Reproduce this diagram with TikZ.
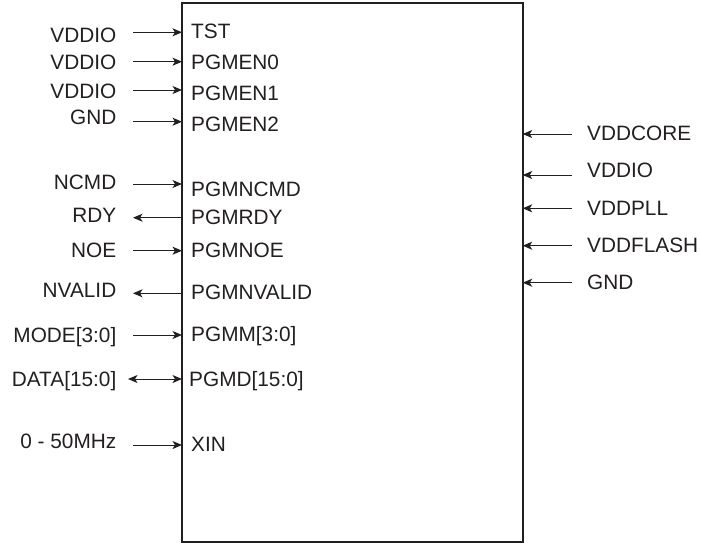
\documentclass[tikz,border=0pt]{standalone}
\usepackage{fontspec}
\setmainfont{Liberation Sans}
\usetikzlibrary{arrows.meta}
\definecolor{ink}{HTML}{231F20}
\begin{document}
\begin{tikzpicture}[x=1pt,y=-1pt,
  font=\fontsize{20.8}{24}\selectfont, every node/.style={text=ink},
  lbl/.style={inner sep=0pt, text height=14.9pt, text depth=0pt},
  lleft/.style={lbl, anchor=east},
  lin/.style={lbl, anchor=west},
  tip/.style={Stealth[length=9.5pt,width=8pt,inset=2.5pt]},
  sig/.style={draw=ink, line width=1pt, -{Stealth[length=9.5pt,width=8pt,inset=2.5pt]}},
  sigb/.style={draw=ink, line width=1pt, {Stealth[length=9.5pt,width=8pt,inset=2.5pt]}-{Stealth[length=9.5pt,width=8pt,inset=2.5pt]}}]
\useasboundingbox (0,0) rectangle (701,544);
\node[draw=ink, line width=2pt, inner sep=0pt, outer sep=0pt, minimum width=340.7pt, minimum height=539.8pt] (chip) at (352.35,272.4) {};
% left outside labels
\node[lleft] (l1) at (116.5,35.5) {VDDIO};
\node[lleft] (l2) at (116.5,62.5) {VDDIO};
\node[lleft] (l3) at (116.5,90.8) {VDDIO};
\node[lleft] (l4) at (116.5,117.5) {GND};
\node[lleft] (l5) at (116.5,182.2) {NCMD};
\node[lleft] (l6) at (116.5,215.5) {RDY};
\node[lleft] (l7) at (116.5,249.7) {NOE};
\node[lleft] (l8) at (116.5,290.5) {NVALID};
\node[lleft] (l9) at (116.5,334.8) {MODE[3:0]};
\node[lleft] (l10) at (116.5,379.2) {DATA[15:0]};
\node[lleft] (l11) at (116.5,441.2) {0 - 50MHz};
% inner pin labels
\node[lin] (p1) at (191,31.5) {TST};
\node[lin] (p2) at (191,62.5) {PGMEN0};
\node[lin] (p3) at (191,93.3) {PGMEN1};
\node[lin] (p4) at (191,124.5) {PGMEN2};
\node[lin] (p5) at (191,189.2) {PGMNCMD};
\node[lin] (p6) at (191,217.5) {PGMRDY};
\node[lin] (p7) at (191,250) {PGMNOE};
\node[lin] (p8) at (191,292.5) {PGMNVALID};
\node[lin] (p9) at (191,334.2) {PGMM[3:0]};
\node[lin] (p10) at (189,379.2) {PGMD[15:0]};
\node[lin] (p11) at (191,444.2) {XIN};
% left arrow free ends
\coordinate (a1) at (133,32.3);
\coordinate (a2) at (133,61.7);
\coordinate (a3) at (133,90);
\coordinate (a4) at (133,121.7);
\coordinate (a5) at (133,184);
\coordinate (a6) at (133,217.7);
\coordinate (a7) at (133,250.7);
\coordinate (a8) at (133,293.3);
\coordinate (a9) at (133,335);
\coordinate (a10) at (128,379);
\coordinate (a11) at (133,445);
\draw[sig] (a1) -- (chip.west |- a1);
\draw[sig] (a2) -- (chip.west |- a2);
\draw[sig] (a3) -- (chip.west |- a3);
\draw[sig] (a4) -- (chip.west |- a4);
\draw[sig] (a5) -- (chip.west |- a5);
\draw[sig] (chip.west |- a6) -- (a6);
\draw[sig] (a7) -- (chip.west |- a7);
\draw[sig] (chip.west |- a8) -- (a8);
\draw[sig] (a9) -- (chip.west |- a9);
\draw[sigb] (a10) -- (chip.west |- a10);
\draw[sig] (a11) -- (chip.west |- a11);
% right side
\node[lin] (r1) at (587,132.8) {VDDCORE};
\node[lin] (r2) at (587,170.5) {VDDIO};
\node[lin] (r3) at (587,207.8) {VDDPLL};
\node[lin] (r4) at (587,244.7) {VDDFLASH};
\node[lin] (r5) at (587,282.2) {GND};
\coordinate (b1) at (572,134);
\coordinate (b2) at (572,175);
\coordinate (b3) at (572,208.3);
\coordinate (b4) at (572,245.7);
\coordinate (b5) at (572,282.7);
\draw[sig] (b1) -- (chip.east |- b1);
\draw[sig] (b2) -- (chip.east |- b2);
\draw[sig] (b3) -- (chip.east |- b3);
\draw[sig] (b4) -- (chip.east |- b4);
\draw[sig] (b5) -- (chip.east |- b5);
\end{tikzpicture}
\end{document}
